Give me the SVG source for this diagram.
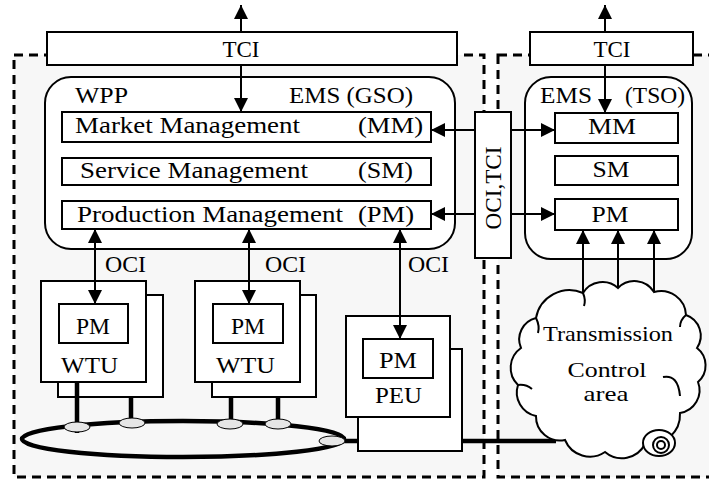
<svg xmlns="http://www.w3.org/2000/svg" width="709" height="480" viewBox="0 0 709 480" font-family="'Liberation Serif', 'DejaVu Serif', serif">
<style>
.region{fill:#f7f7f7;stroke:#000;stroke-width:3;stroke-dasharray:9 6}
.box{fill:#fff;stroke:#000;stroke-width:2}
.line{fill:none;stroke:#000;stroke-width:2}
.thick{fill:none;stroke:#000;stroke-width:4.5}
.node{fill:#e6e6e6;stroke:#000;stroke-width:1}
text{font-family:'Liberation Serif','DejaVu Serif',serif;font-size:23px;fill:#000}
.mid{text-anchor:middle}
.cl{font-size:22px}
</style>
<defs>
<marker id="ah" viewBox="0 0 14 14" refX="14" refY="7" markerWidth="14" markerHeight="14" markerUnits="userSpaceOnUse" orient="auto-start-reverse">
<path d="M0,0 L14,7 L0,14 z" fill="#000"/>
</marker>
</defs>
<rect width="709" height="480" fill="#fff"/>
<g id="regions">
<rect class="region" x="14" y="55" width="470" height="422"/>
<rect class="region" x="498" y="55" width="220" height="422"/>
</g>
<g id="tci-left">
<rect class="box" x="47" y="32" width="410" height="33"/>
<text class="mid" x="241" y="57">TCI</text>
</g>
<g id="tci-right">
<rect class="box" x="530" y="32" width="163" height="33"/>
<text class="mid" x="612" y="57">TCI</text>
</g>
<g id="ems-gso">
<rect class="box" x="45" y="77" width="410" height="172" rx="26"/>
<text x="75" y="103" textLength="53" lengthAdjust="spacingAndGlyphs">WPP</text>
<text x="289" y="103" textLength="124" lengthAdjust="spacingAndGlyphs">EMS (GSO)</text>
</g>
<g id="mm-gso">
<rect class="box" x="62" y="112" width="369" height="30"/>
<text x="75" y="133" textLength="225" lengthAdjust="spacingAndGlyphs">Market Management</text>
<text x="358" y="133" textLength="65" lengthAdjust="spacingAndGlyphs">(MM)</text>
</g>
<g id="sm-gso">
<rect class="box" x="62" y="158" width="369" height="27"/>
<text x="80" y="178" textLength="228" lengthAdjust="spacingAndGlyphs">Service Management</text>
<text x="358" y="178" textLength="55" lengthAdjust="spacingAndGlyphs">(SM)</text>
</g>
<g id="pm-gso">
<rect class="box" x="62" y="201" width="369" height="28"/>
<text x="77" y="222" textLength="266" lengthAdjust="spacingAndGlyphs">Production Management</text>
<text x="358" y="222" textLength="56" lengthAdjust="spacingAndGlyphs">(PM)</text>
</g>
<g id="ems-tso">
<rect class="box" x="525" y="77" width="167" height="182" rx="26"/>
<text x="540" y="103" textLength="52" lengthAdjust="spacingAndGlyphs">EMS</text>
<text x="625" y="103" textLength="60" lengthAdjust="spacingAndGlyphs">(TSO)</text>
</g>
<g id="mm-tso">
<rect class="box" x="555" y="113" width="123" height="30"/>
<text class="mid" x="612" y="134" textLength="48" lengthAdjust="spacingAndGlyphs">MM</text>
</g>
<g id="sm-tso">
<rect class="box" x="555" y="156" width="123" height="29"/>
<text class="mid" x="611" y="177" textLength="37" lengthAdjust="spacingAndGlyphs">SM</text>
</g>
<g id="pm-tso">
<rect class="box" x="555" y="199" width="123" height="31"/>
<text class="mid" x="610" y="222" textLength="37" lengthAdjust="spacingAndGlyphs">PM</text>
</g>
<g id="oci-tci">
<rect class="box" x="475" y="112" width="36" height="146"/>
<text class="mid" transform="translate(501,188) rotate(-90)" textLength="83" lengthAdjust="spacingAndGlyphs">OCI,TCI</text>
</g>
<g id="wtu1">
<rect class="box" x="58" y="295" width="105" height="102"/>
<rect class="box" x="41" y="281" width="105" height="101"/>
<rect class="box" x="59" y="304" width="69" height="39"/>
<text class="mid" x="93" y="334" textLength="34" lengthAdjust="spacingAndGlyphs">PM</text>
<text x="61" y="373" textLength="57" lengthAdjust="spacingAndGlyphs">WTU</text>
</g>
<g id="wtu2">
<rect class="box" x="212" y="295" width="104" height="102"/>
<rect class="box" x="195" y="281" width="105" height="101"/>
<rect class="box" x="213" y="304" width="70" height="39"/>
<text class="mid" x="248" y="334" textLength="34" lengthAdjust="spacingAndGlyphs">PM</text>
<text x="216" y="373" textLength="59" lengthAdjust="spacingAndGlyphs">WTU</text>
</g>
<g id="peu">
<rect class="box" x="358" y="349" width="104" height="102"/>
<rect class="box" x="346" y="316" width="104" height="101"/>
<rect class="box" x="363" y="339" width="70" height="39"/>
<text class="mid" x="398" y="368" textLength="38" lengthAdjust="spacingAndGlyphs">PM</text>
<text x="375" y="403" textLength="47" lengthAdjust="spacingAndGlyphs">PEU</text>
</g>
<g id="connectors">
<path class="line" d="M241 32 V5" marker-end="url(#ah)"/>
<path class="line" d="M241 65 V112" marker-end="url(#ah)"/>
<path class="line" d="M605 32 V5" marker-end="url(#ah)"/>
<path class="line" d="M605 65 V113" marker-end="url(#ah)"/>
<path class="line" d="M475 130 H431" marker-end="url(#ah)"/>
<path class="line" d="M511 130 H555" marker-end="url(#ah)"/>
<path class="line" d="M475 214 H431" marker-end="url(#ah)"/>
<path class="line" d="M511 214 H555" marker-end="url(#ah)"/>
<path class="line" d="M95 229 V304" marker-start="url(#ah)" marker-end="url(#ah)"/>
<path class="line" d="M249 229 V304" marker-start="url(#ah)" marker-end="url(#ah)"/>
<path class="line" d="M400 229 V339" marker-start="url(#ah)" marker-end="url(#ah)"/>
<text x="105" y="272" textLength="41" lengthAdjust="spacingAndGlyphs">OCI</text>
<text x="265" y="272" textLength="41" lengthAdjust="spacingAndGlyphs">OCI</text>
<text x="408" y="272" textLength="41" lengthAdjust="spacingAndGlyphs">OCI</text>
<path class="line" d="M583 293 V230" marker-end="url(#ah)"/>
<path class="line" d="M618 288 V230" marker-end="url(#ah)"/>
<path class="line" d="M654 292 V230" marker-end="url(#ah)"/>
<path class="thick" d="M77 382 V433 M131 397 V421 M231 397 V421 M278 397 V421"/>
<path class="thick" d="M342 441 H358 M462 441 H556"/>
</g>
<g id="ring">
<ellipse cx="183" cy="439" rx="161" ry="18" fill="none" stroke="#000" stroke-width="4.5"/>
<ellipse class="node" cx="77" cy="427" rx="13" ry="5"/>
<ellipse class="node" cx="132" cy="423" rx="13" ry="5"/>
<ellipse class="node" cx="230" cy="424" rx="13" ry="5"/>
<ellipse class="node" cx="278" cy="424" rx="13" ry="5"/>
<ellipse class="node" cx="332" cy="441" rx="13" ry="5"/>
</g>
<g id="cloud">
<path class="box" d="M536 318 A34 34 0 0 1 583 293 A23 23 0 0 1 618 288 A23 23 0 0 1 654 292 A25 25 0 0 1 686 315 A22 22 0 0 1 697 348 A22 22 0 0 1 698 382 A23 23 0 0 1 680 413 A30 30 0 0 1 645 444 A26 26 0 0 1 605 452 A27 27 0 0 1 565 440 A24 24 0 0 1 536 416 A24 24 0 0 1 518 385 A24 24 0 0 1 521 348 A22 22 0 0 1 536 318 Z"/>
<path class="line" d="M663 377 Q678 374 680 396 M536 318 Q540 326 538 333 M583 293 Q586 300 584 306 M686 315 Q680 320 680 327 M518 385 Q526 384 532 389"/>
<ellipse class="box" cx="659" cy="443" rx="16" ry="13"/>
<circle class="box" cx="661" cy="445" r="8"/>
<circle class="box" cx="661" cy="445" r="4"/>
<text class="mid cl" x="608" y="341" textLength="130" lengthAdjust="spacingAndGlyphs">Transmission</text>
<text class="mid cl" x="607" y="377" textLength="79" lengthAdjust="spacingAndGlyphs">Control</text>
<text class="mid cl" x="606" y="401" textLength="45" lengthAdjust="spacingAndGlyphs">area</text>
</g>
</svg>
